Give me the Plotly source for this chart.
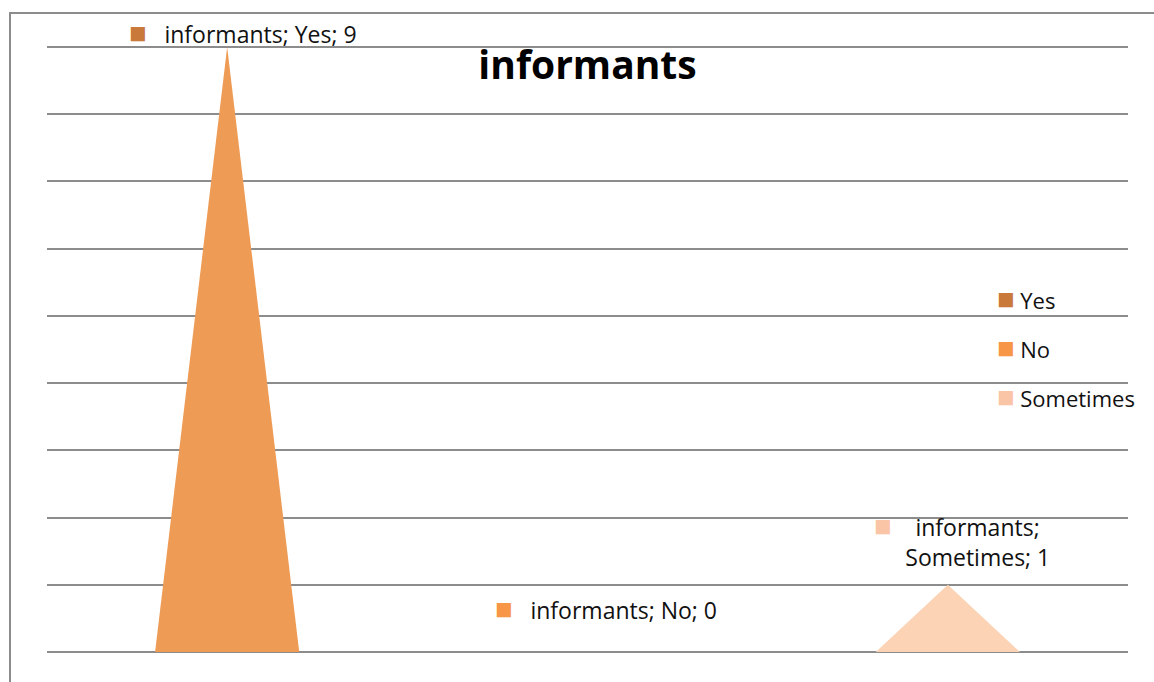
import plotly.graph_objects as go

# Survey answers and counts
categories = ["Yes", "No", "Sometimes"]
values = [9, 0, 1]
series_name = "informants"

fill_colors = ["#EE9B55", "#F79646", "#FDD3B6"]
key_colors = ["#C9793A", "#F79646", "#FAC4A6"]

FONT = "Open Sans"
GRID = "#8C8C8C"
half_width = 0.2  # half of the triangle base, in category units

# Plot area in pixels (for placing the key on the right)
W, H = 1154, 682
M_L, M_R, M_T, M_B = 47, 26, 45, 28
plot_w = W - M_L - M_R
plot_h = H - M_T - M_B


def px_to_paper(xp, yp):
    return (xp - M_L) / plot_w, (H - M_B - yp) / plot_h


fig = go.Figure()

# One triangle per category, apex at the category value
for i, (cat, val) in enumerate(zip(categories, values)):
    if val <= 0:
        continue
    fig.add_trace(go.Scatter(
        x=[i - half_width, i, i + half_width, i - half_width],
        y=[0, val, 0, 0],
        mode="lines",
        fill="toself",
        fillcolor=fill_colors[i],
        line=dict(width=0, color=fill_colors[i]),
        name=cat,
        showlegend=False,
        hoverinfo="skip",
    ))

annotations = []


def key_square(color):
    return f"<span style='color:{color};font-size:29px'>■</span>"


# Data labels: "series; category; value" with a coloured key square
label_pos = [(0.044, 9, 16), (0.051, 0, 44), (0.083, 1, 46)]
for i, (cat, val) in enumerate(zip(categories, values)):
    dx, ly, shift = label_pos[i]
    sq = key_square(key_colors[i])
    if cat == "Sometimes":
        pad = "&nbsp;" * 7
        text = f"{sq}    {series_name};{pad}<br>{cat}; {val}"
    else:
        text = f"{sq}   {series_name}; {cat}; {val}"
    annotations.append(dict(
        x=i + dx, y=ly, yshift=shift, xref="x", yref="y", text=text,
        showarrow=False,
        font=dict(family=FONT, size=23, color="#111111"),
        align="center", xanchor="center", yanchor="middle",
    ))

# Key entries at the right
legend_y = [297, 347, 395]
for i, cat in enumerate(categories):
    lx, ly = px_to_paper(995, legend_y[i])
    annotations.append(dict(
        x=lx, y=ly, xref="paper", yref="paper",
        text=f"{key_square(key_colors[i])} {cat}",
        showarrow=False, font=dict(family=FONT, size=22, color="#111111"),
        xanchor="left", yanchor="middle",
    ))

bx0, by1 = px_to_paper(10, 13)

fig.update_layout(
    width=W, height=H,
    margin=dict(l=M_L, r=M_R, t=M_T, b=M_B),
    paper_bgcolor="white", plot_bgcolor="white",
    title=dict(text="<b>informants</b>", x=0.5, xref="paper",
               y=1 - 65 / H, yanchor="middle", xanchor="center",
               font=dict(family=FONT, size=39, color="#000000")),
    xaxis=dict(range=[-0.5, 2.5], showgrid=False, zeroline=False,
               showticklabels=False, showline=False, ticks=""),
    yaxis=dict(range=[-0.03, 9.03], dtick=1, tick0=0, showgrid=True,
               gridcolor=GRID, gridwidth=2, zeroline=False,
               showticklabels=False, showline=False, ticks=""),
    annotations=annotations,
    shapes=[dict(type="rect", xref="paper", yref="paper",
                 x0=bx0, x1=1.2, y0=-0.2, y1=by1,
                 line=dict(color=GRID, width=2), fillcolor="rgba(0,0,0,0)",
                 layer="below")],
    showlegend=False,
)

fig.write_html("out.html")
